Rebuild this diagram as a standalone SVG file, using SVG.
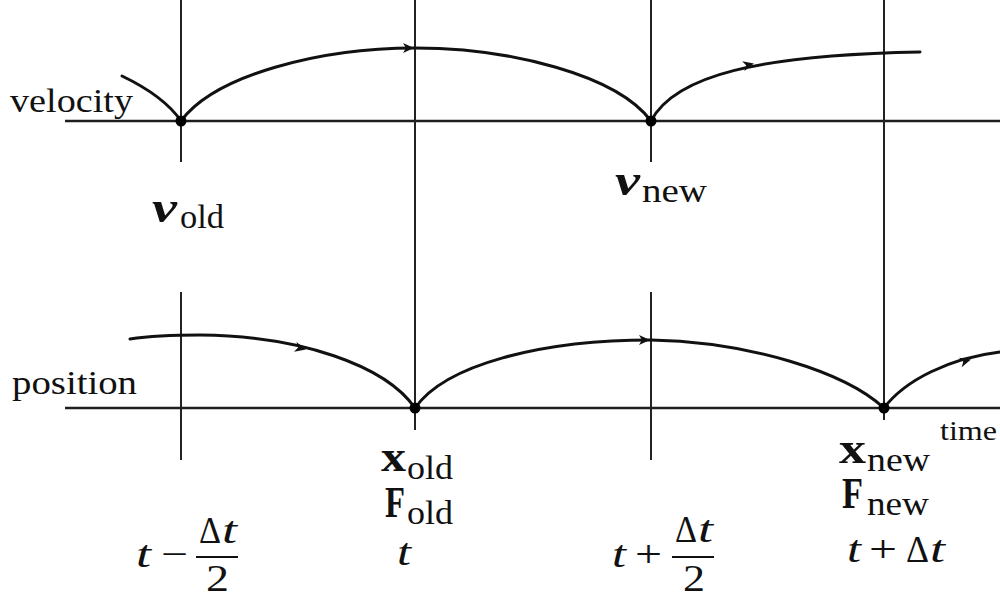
<svg xmlns="http://www.w3.org/2000/svg" width="1000" height="599" viewBox="0 0 1000 599">
<style>
.ax{stroke:#1e1e1e;stroke-width:2.5;fill:none}
.vl{stroke:#222;stroke-width:2;fill:none}
.cv{stroke:#111;stroke-width:3;fill:none;stroke-linecap:round}
.dot{fill:#000}
.ah{fill:#111}
.lab{font-size:34px}
.bi{font-weight:bold;font-style:italic;font-size:44px}
.b{font-weight:bold;font-size:44px}
.sub{font-size:34px}
.it{font-style:italic;font-size:38px}
.rm{font-size:38px}
</style>
<defs>
<path id="arrow" d="M-9,-5 L2,0 L-9,5 L-6,0 Z"/>
</defs>
<g id="grid">
<line class="ax" x1="65" y1="121" x2="1000" y2="121"/>
<line class="ax" x1="65" y1="408" x2="1000" y2="408"/>
<line class="vl" x1="181" y1="0" x2="181" y2="162"/>
<line class="vl" x1="181" y1="292" x2="181" y2="460"/>
<line class="vl" x1="415" y1="0" x2="415" y2="430"/>
<line class="vl" x1="651" y1="0" x2="651" y2="162"/>
<line class="vl" x1="651" y1="292" x2="651" y2="460"/>
<line class="vl" x1="884" y1="0" x2="884" y2="420"/>
</g>
<g id="connectors">
<path class="cv" d="M122,76 C145,87 168,102 181,121"/>
<path class="cv" d="M181,121 C215,75 320,48 415,48 C510,48 617,75 651,121"/>
<path class="cv" d="M651,121 C675,75 760,55 920,52"/>
<path class="cv" d="M130,339 C150,336 175,335 200,335 C300,336 385,365 415,408"/>
<path class="cv" d="M415,408 C445,365 540,340 651,340 C750,342 845,372 884,408"/>
<path class="cv" d="M884,408 C905,380 950,358 1000,352"/>
<use class="ah" href="#arrow" transform="translate(412,48)"/>
<use class="ah" href="#arrow" transform="translate(752,64) rotate(-13)"/>
<use class="ah" href="#arrow" transform="translate(304,349) rotate(14)"/>
<use class="ah" href="#arrow" transform="translate(648,340)"/>
<use class="ah" href="#arrow" transform="translate(969,360) rotate(-16)"/>
</g>
<g id="dots">
<circle class="dot" cx="181" cy="121" r="5.5"/>
<circle class="dot" cx="651" cy="121" r="5.5"/>
<circle class="dot" cx="415" cy="408" r="5.5"/>
<circle class="dot" cx="884" cy="408" r="5.5"/>
</g>
<g font-family="Liberation Serif, serif" fill="#111">
<g id="axis-labels">
<text class="lab" x="10" y="112" textLength="123" lengthAdjust="spacingAndGlyphs">velocity</text>
<text class="lab" x="12" y="394" textLength="125" lengthAdjust="spacingAndGlyphs">position</text>
<text x="940" y="440" font-size="28" textLength="57" lengthAdjust="spacingAndGlyphs">time</text>
</g>
<g id="v-old">
<text class="bi" x="152" y="222" textLength="25" lengthAdjust="spacingAndGlyphs">v</text>
<text class="sub" x="180" y="228" textLength="44" lengthAdjust="spacingAndGlyphs">old</text>
</g>
<g id="v-new">
<text class="bi" x="615" y="195" textLength="25" lengthAdjust="spacingAndGlyphs">v</text>
<text class="sub" x="642" y="202" textLength="65" lengthAdjust="spacingAndGlyphs">new</text>
</g>
<g id="x-old">
<text class="b" x="381" y="471" textLength="25" lengthAdjust="spacingAndGlyphs">x</text>
<text class="sub" x="407" y="479" textLength="46" lengthAdjust="spacingAndGlyphs">old</text>
<text class="b" x="385" y="517" font-size="42" textLength="20" lengthAdjust="spacingAndGlyphs">F</text>
<text class="sub" x="407" y="524" textLength="46" lengthAdjust="spacingAndGlyphs">old</text>
<text class="it" x="397" y="565" textLength="14" lengthAdjust="spacingAndGlyphs">t</text>
</g>
<g id="x-new">
<text class="b" x="839" y="463" textLength="27" lengthAdjust="spacingAndGlyphs">x</text>
<text class="sub" x="867" y="471" textLength="63" lengthAdjust="spacingAndGlyphs">new</text>
<text class="b" x="842" y="508" font-size="42" textLength="21" lengthAdjust="spacingAndGlyphs">F</text>
<text class="sub" x="867" y="515" textLength="62" lengthAdjust="spacingAndGlyphs">new</text>
<text class="it" x="847" y="562" textLength="14" lengthAdjust="spacingAndGlyphs">t</text>
<text class="rm" x="869" y="562" textLength="28" lengthAdjust="spacingAndGlyphs">+</text>
<text class="rm" x="906" y="562" textLength="23" lengthAdjust="spacingAndGlyphs">Δ</text>
<text class="it" x="930" y="562" textLength="15" lengthAdjust="spacingAndGlyphs">t</text>
</g>
<g id="t-minus">
<text class="it" x="136" y="567" textLength="15" lengthAdjust="spacingAndGlyphs">t</text>
<text class="rm" x="161" y="567" textLength="27" lengthAdjust="spacingAndGlyphs">−</text>
<line x1="196" y1="557" x2="238" y2="557" stroke="#111" stroke-width="2"/>
<text class="rm" x="199" y="543" textLength="22" lengthAdjust="spacingAndGlyphs">Δ</text>
<text class="it" x="222" y="543" textLength="15" lengthAdjust="spacingAndGlyphs">t</text>
<text class="rm" x="206" y="591" textLength="23" lengthAdjust="spacingAndGlyphs">2</text>
</g>
<g id="t-plus">
<text class="it" x="612" y="567" textLength="14" lengthAdjust="spacingAndGlyphs">t</text>
<text class="rm" x="635" y="567" textLength="27" lengthAdjust="spacingAndGlyphs">+</text>
<line x1="672" y1="557" x2="714" y2="557" stroke="#111" stroke-width="2"/>
<text class="rm" x="675" y="542" textLength="22" lengthAdjust="spacingAndGlyphs">Δ</text>
<text class="it" x="698" y="542" textLength="15" lengthAdjust="spacingAndGlyphs">t</text>
<text class="rm" x="683" y="591" textLength="22" lengthAdjust="spacingAndGlyphs">2</text>
</g>
</g>
</svg>
